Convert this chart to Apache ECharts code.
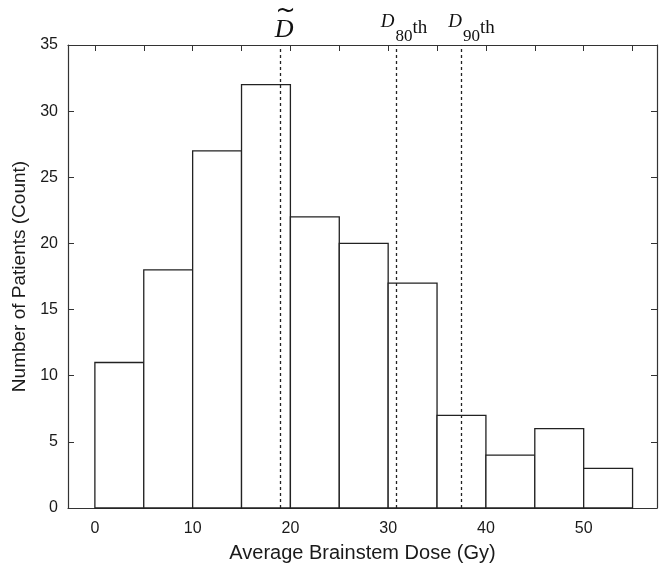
<!DOCTYPE html>
<html><head><meta charset="utf-8">
<script src="https://cdn.jsdelivr.net/npm/echarts@6/dist/echarts.min.js"></script>
<style>html,body{margin:0;padding:0;background:#fff}#c{width:665px;height:568px}</style>
</head><body><div id="c"></div>
<script>
const binStarts = [0,5,10,15,20,25,30,35,40,45,50];
const binWidth = 5;
const counts = [11,18,27,32,22,20,17,7,4,6,3];
const xTicks = [0,5,10,15,20,25,30,35,40,45,50,55];
const xLabels = [0,10,20,30,40,50];
const refLines = [
  {name:'median', x:18.95},
  {name:'D80', x:30.8},
  {name:'D90', x:37.5}
];

const lineCol = '#333';
const font = 'Liberation Sans, Arial, sans-serif';
const serif = 'Liberation Serif, DejaVu Serif, serif';

const data = binStarts.map((s,i)=>[s, s+binWidth, counts[i]]);

function xAx(pos, show){
  return {type:'value', position:pos, min:-2.75, max:57.5,
    axisLine:{show:true, onZero:false, lineStyle:{color:lineCol,width:1.2}},
    axisTick:{show:true, inside:true, length:6, customValues:xTicks, lineStyle:{color:lineCol}},
    axisLabel:{show:show, customValues:xLabels, fontFamily:font, fontSize:16, color:'#1a1a1a', margin:13},
    splitLine:{show:false},
    name: show ? 'Average Brainstem Dose (Gy)' : '',
    nameLocation:'middle', nameGap:35,
    nameTextStyle:{fontFamily:font, fontSize:20, color:'#1a1a1a'}
  };
}
function yAx(pos, show){
  return {type:'value', position:pos, min:0, max:35, interval:5,
    axisLine:{show:true, onZero:false, lineStyle:{color:lineCol,width:1.2}},
    axisTick:{show:true, inside:true, length:6, lineStyle:{color:lineCol}},
    axisLabel:{show:show, fontFamily:font, fontSize:16, color:'#1a1a1a', margin:10},
    splitLine:{show:false},
    name: show ? 'Number of Patients (Count)' : '',
    nameLocation:'middle', nameGap:33,
    nameTextStyle:{fontFamily:font, fontSize:19, color:'#1a1a1a'}
  };
}

const rich = {
  d:{fontFamily:serif, fontStyle:'italic', fontSize:19, color:'#111', verticalAlign:'bottom', padding:[0,0,14,0]},
  s:{fontFamily:serif, fontSize:17, color:'#111', verticalAlign:'bottom', padding:[0,0,0,1]},
  t:{fontFamily:serif, fontSize:19, color:'#111', verticalAlign:'bottom', padding:[0,0,7,0]},
  tl:{fontFamily:'DejaVu Sans, sans-serif', fontSize:24, color:'#111', lineHeight:10, padding:[0,0,0,3]},
  m:{fontFamily:serif, fontStyle:'italic', fontSize:26, color:'#111', lineHeight:26}
};

const labelFor = {
  median:{formatter:'{tl|~}\n{m|D}', offset:[4,2]},
  D80:{formatter:'{d|D}{s|80}{t|th}', offset:[8,4]},
  D90:{formatter:'{d|D}{s|90}{t|th}', offset:[10,4]}
};

const option = {
  backgroundColor:'#fff',
  animation:false,
  grid:{left:68, right:8, top:45, bottom:58},
  xAxis:[xAx('bottom',true), xAx('top',false)],
  yAxis:[yAx('left',true), yAx('right',false)],
  series:[{
    type:'custom',
    xAxisIndex:0, yAxisIndex:0,
    data:data,
    encode:{x:[0,1], y:2},
    renderItem:function(params, api){
      const p0 = api.coord([api.value(0), 0]);
      const p1 = api.coord([api.value(1), api.value(2)]);
      return {type:'rect',
        shape:{x:p0[0], y:p1[1], width:p1[0]-p0[0], height:p0[1]-p1[1]},
        style:{fill:'#fff', stroke:'#222', lineWidth:1.3}};
    },
    markLine:{
      silent:true, symbol:['none','none'],
      lineStyle:{type:[3,3], color:'#222', width:1.3},
      data: refLines.map(r=>({xAxis:r.x,
        label:{show:true, position:'end', distance:4, formatter:labelFor[r.name].formatter,
               offset:labelFor[r.name].offset, rich:rich}}))
    },
    z:2
  }]
};
echarts.init(document.getElementById('c')).setOption(option);
</script></body></html>
